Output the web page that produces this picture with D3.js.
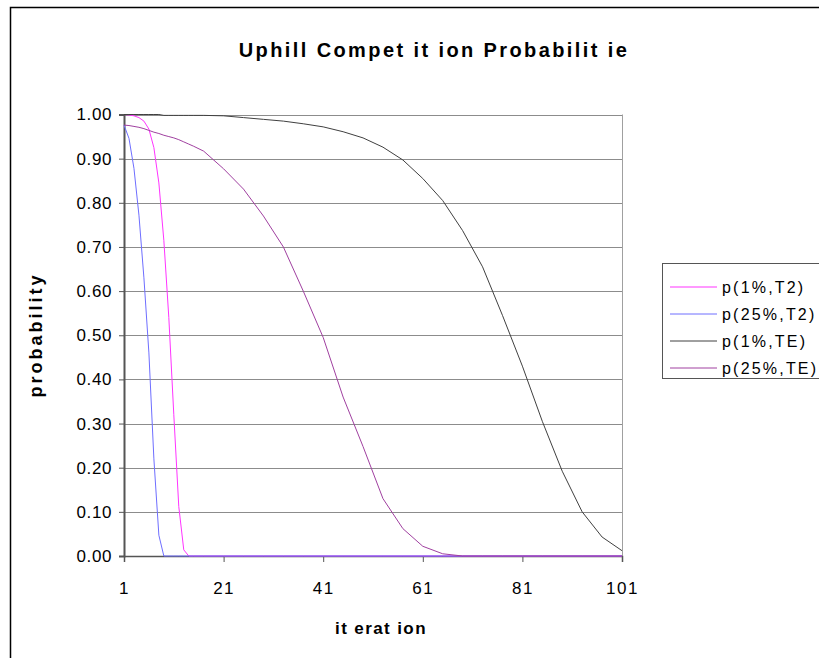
<!DOCTYPE html>
<html>
<head>
<meta charset="utf-8">
<script src="https://cdn.jsdelivr.net/npm/d3@7"></script>
<style>
	body { margin: 0; background: #fff; }
	svg { font-family: "Liberation Sans", Arial, sans-serif; }
	.grid line { stroke: #8c8c8c; stroke-width: 1; }
	.axis path, .axis line { stroke: #555; }
	.axis text { font-size: 17px; fill: #000; letter-spacing: 0.6px; }
	.xaxis text { letter-spacing: 1.5px; }
	.series { fill: none; stroke-width: 1; }
	.legend text { font-size: 16px; letter-spacing: 2.2px; }
</style>
</head>
<body>
<div class="chart"></div>
<script>
// iterations (dense where the T2 curves fall)
var iterations = [1, 2, 3, 4, 5, 6, 7, 8, 9, 10, 11, 12, 13, 14, 15, 17, 21, 25, 29, 33, 37, 41, 45, 49, 53, 57, 61, 65, 69, 73, 77, 81, 85, 89, 93, 97, 101];
var p1T2 = [1.000, 0.999, 0.997, 0.993, 0.985, 0.967, 0.925, 0.845, 0.715, 0.540, 0.320, 0.112, 0.014, 0, 0, 0, 0, 0, 0, 0, 0, 0, 0, 0, 0, 0, 0, 0, 0, 0, 0, 0, 0, 0, 0, 0, 0];
var p25T2 = [0.976, 0.946, 0.878, 0.772, 0.630, 0.460, 0.220, 0.047, 0, 0, 0, 0, 0, 0, 0, 0, 0, 0, 0, 0, 0, 0, 0, 0, 0, 0, 0, 0, 0, 0, 0, 0, 0, 0, 0, 0, 0];
var p1TE = [1.000, 1.000, 1.000, 1.000, 1.000, 1.000, 1.000, 1.000, 0.998, 0.998, 0.998, 0.998, 0.998, 0.998, 0.998, 0.998, 0.997, 0.993, 0.989, 0.985, 0.979, 0.972, 0.961, 0.947, 0.926, 0.897, 0.855, 0.805, 0.737, 0.655, 0.545, 0.430, 0.305, 0.192, 0.100, 0.043, 0.012];
var p25TE = [0.976, 0.975, 0.973, 0.971, 0.968, 0.964, 0.960, 0.957, 0.953, 0.950, 0.947, 0.943, 0.938, 0.933, 0.928, 0.917, 0.877, 0.831, 0.770, 0.700, 0.600, 0.495, 0.360, 0.248, 0.130, 0.062, 0.022, 0.005, 0, 0, 0, 0, 0, 0, 0, 0, 0];

var seriesNames = ['p(1%,T2)', 'p(25%,T2)', 'p(1%,TE)', 'p(25%,TE)'];
var seriesValues = [p1T2, p25T2, p1TE, p25TE];
var seriesColors = ['#ff33ff', '#6e6eff', '#404040', '#a040a0'];

var xTicks = [1, 21, 41, 61, 81, 101];
var yTicks = [0, 0.1, 0.2, 0.3, 0.4, 0.5, 0.6, 0.7, 0.8, 0.9, 1.0];

var W = 819, H = 658;
var plot = {left: 124, right: 622, top: 114.5, bottom: 556};

var svg = d3.select('.chart').append('svg').attr('width', W).attr('height', H);

// outer chart frame (runs off the right and bottom edge)
svg.append('rect').attr('x', 10.5).attr('y', 7.5).attr('width', 840).attr('height', 700)
	.attr('fill', 'none').attr('stroke', '#000').attr('stroke-width', 1.5);

var x = d3.scaleLinear().domain([1, 101]).range([plot.left, plot.right]);
var y = d3.scaleLinear().domain([0, 1]).range([plot.bottom, plot.top]);

// gridlines
svg.append('g').attr('class', 'grid').selectAll('line').data(yTicks.slice(1)).enter().append('line')
	.attr('x1', plot.left).attr('x2', plot.right)
	.attr('y1', function(d) { return Math.round(y(d)) + 0.5; })
	.attr('y2', function(d) { return Math.round(y(d)) + 0.5; });
svg.append('line').attr('x1', plot.right + 0.5).attr('x2', plot.right + 0.5)
	.attr('y1', plot.top).attr('y2', plot.bottom).attr('stroke', '#a0a0a0');

// axes
var yAxis = d3.axisLeft(y).tickValues(yTicks).tickFormat(d3.format('.2f')).tickSize(5).tickPadding(7);
svg.append('g').attr('class', 'axis').attr('transform', 'translate(' + plot.left + ',0)').call(yAxis)
	.select('.domain').attr('stroke-width', 2);
var xAxis = d3.axisBottom(x).tickValues(xTicks).tickFormat(d3.format('d')).tickSize(6).tickPadding(20);
svg.append('g').attr('class', 'axis xaxis').attr('transform', 'translate(0,' + plot.bottom + ')').call(xAxis)
	.select('.domain').attr('stroke-width', 1.5);

// series
var line = d3.line()
	.x(function(d, i) { return x(iterations[i]); })
	.y(function(d) { return y(d); });
seriesValues.forEach(function(vals, k) {
	svg.append('path').attr('class', 'series').attr('d', line(vals)).attr('stroke', seriesColors[k]);
});

// titles
svg.append('text').attr('x', 434).attr('y', 57).attr('text-anchor', 'middle')
	.attr('font-size', 20).attr('font-weight', 'bold').attr('letter-spacing', 2.4)
	.text('Uphill Compet it ion Probabilit ie');
svg.append('text').attr('x', 381).attr('y', 634).attr('text-anchor', 'middle')
	.attr('font-size', 17).attr('font-weight', 'bold').attr('letter-spacing', 1.4).text('it erat ion');
svg.append('text').attr('transform', 'translate(42,335) rotate(-90)').attr('text-anchor', 'middle')
	.attr('font-size', 18).attr('font-weight', 'bold').attr('letter-spacing', 3).text('probability');

// legend
var lg = svg.append('g').attr('class', 'legend');
lg.append('rect').attr('x', 662.5).attr('y', 263.5).attr('width', 200).attr('height', 115)
	.attr('fill', '#fff').attr('stroke', '#555');
seriesNames.forEach(function(name, k) {
	var ly = 287 + k * 27;
	lg.append('line').attr('x1', 670).attr('x2', 717).attr('y1', ly).attr('y2', ly)
		.attr('stroke', seriesColors[k]).attr('stroke-width', 1);
	lg.append('text').attr('x', 722).attr('y', ly + 6).text(name);
});
</script>
</body>
</html>
